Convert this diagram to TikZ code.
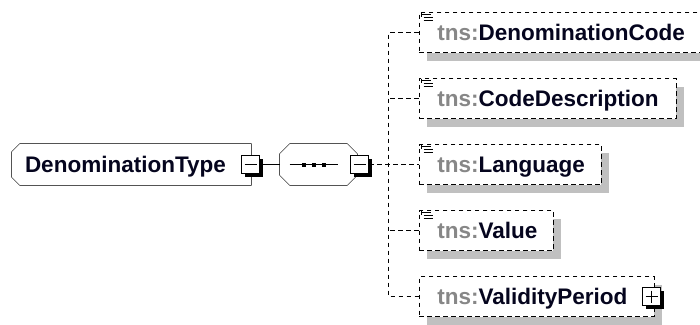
\documentclass[tikz,border=0pt]{standalone}
\usepackage{fontspec}
\setmainfont{Liberation Sans}
\usetikzlibrary{shadows,calc,backgrounds}
\definecolor{shadowgray}{RGB}{192,192,192}
\definecolor{tnsgray}{RGB}{135,135,135}
\definecolor{namecol}{RGB}{5,5,30}
\newcommand{\tnsp}{\textcolor{tnsgray}{tns:}}
\begin{document}
\begin{tikzpicture}[x=1pt,y=-1pt,line width=1.7pt,
  lbl/.style={font=\fontsize{22.5}{26}\selectfont\bfseries,text=namecol,text height=16.1pt,text depth=0pt},
  shad/.style={drop shadow={shadow xshift=8pt,shadow yshift=-8pt,fill=shadowgray,opacity=1}},
  dsh/.style={dash pattern=on 4.5pt off 3.5pt},
  cbox/.style={lbl,shad,draw,dsh,fill=white,rectangle,minimum height=40pt,inner xsep=18pt,inner ysep=0pt,anchor=west},
  mainbox/.style={lbl,rectangle,minimum width=238pt,minimum height=40pt,inner xsep=12pt,inner ysep=0pt},
  seqbox/.style={rectangle,minimum width=76pt,minimum height=40pt,inner sep=0pt},
  octfill/.style={draw,fill=white},
  btn/.style={draw,fill=white,rectangle,minimum width=18pt,minimum height=18pt,inner sep=0pt,drop shadow={shadow xshift=3pt,shadow yshift=-3pt,fill=black,opacity=1}},
  icon/.style={line width=1.2pt}
]
\useasboundingbox (0,0) rectangle (700,324);
\clip (0,0) rectangle (700,324);
% main element
\node[mainbox] (dt) at (131.5,164.5) {\makebox[213pt][l]{DenominationType}};
% sequence
\node[seqbox] (seq) at (318.5,164.5) {};
\begin{scope}[on background layer]
  % main element shadow and outline (left corners chamfered)
  \fill[shadowgray,shift={(8,8)}] ($(dt.north west)+(8,0)$) -- (dt.north east) -- (dt.south east)
     -- ($(dt.south west)+(8,0)$) -- ($(dt.south west)+(0,-8)$) -- ($(dt.north west)+(0,8)$) -- cycle;
  \draw[octfill] ($(dt.north west)+(8,0)$) -- (dt.north east) -- (dt.south east)
     -- ($(dt.south west)+(8,0)$) -- ($(dt.south west)+(0,-8)$) -- ($(dt.north west)+(0,8)$) -- cycle;
  % sequence shadow and octagon
  \fill[shadowgray,shift={(8,8)}] ($(seq.north west)+(10,0)$) -- ($(seq.north east)+(-10,0)$) -- ($(seq.north east)+(0,10)$)
     -- ($(seq.south east)+(0,-10)$) -- ($(seq.south east)+(-10,0)$) -- ($(seq.south west)+(10,0)$)
     -- ($(seq.south west)+(0,-10)$) -- ($(seq.north west)+(0,10)$) -- cycle;
  \draw[octfill] ($(seq.north west)+(10,0)$) -- ($(seq.north east)+(-10,0)$) -- ($(seq.north east)+(0,10)$)
     -- ($(seq.south east)+(0,-10)$) -- ($(seq.south east)+(-10,0)$) -- ($(seq.south west)+(10,0)$)
     -- ($(seq.south west)+(0,-10)$) -- ($(seq.north west)+(0,10)$) -- cycle;
\end{scope}
\node[btn] (b1) at (250.5,164.5) {};
\draw ($(b1.center)+(-6,0)$) -- ($(b1.center)+(6,0)$);
\draw ($(seq.west)+(10,0)$) -- ++(48,0);
\foreach \k in {0,10,20} {\fill ($(seq.west)+(22+\k,-2)$) rectangle ++(4,4);}
\node[btn] (b2) at (359.5,164.5) {};
\draw ($(b2.center)+(-6,0)$) -- ($(b2.center)+(6,0)$);
% children
\node[cbox] (c1) at (418.5,32.5) {\makebox[251pt][l]{\tnsp DenominationCode}};
\node[cbox] (c2) at (418.5,98.5) {\makebox[221pt][l]{\tnsp CodeDescription}};
\node[cbox] (c3) at (418.5,164.5) {\makebox[146pt][l]{\tnsp Language}};
\node[cbox] (c4) at (418.5,230.5) {\makebox[98pt][l]{\tnsp Value}};
\node[cbox] (c5) at (418.5,296.5) {\makebox[199pt][l]{\tnsp ValidityPeriod}};
\node[btn] (b3) at (651.5,296.5) {};
\draw ($(b3.center)+(-6,0)$) -- ($(b3.center)+(6,0)$);
\draw ($(b3.center)+(0,-6)$) -- ($(b3.center)+(0,6)$);
% doc icons
\foreach \n in {c1,c2,c3,c4} {
  \draw[icon] ($(\n.north west)+(3,1)$) -- ++(0,4);
  \draw[icon] ($(\n.north west)+(3,3)$) -- ++(9,0);
  \draw[icon] ($(\n.north west)+(5,6)$) -- ++(9,0);
  \draw[icon] ($(\n.north west)+(5,9)$) -- ++(9,0);
}
% connectors
\draw (b1.east) -- (seq.west);
\draw[dsh] (b2.east) -- (c3.west);
\draw[dsh] (c1.west) -- ++(-30,0) |- (c5.west);
\draw[dsh] (c2.west) -- ++(-30,0);
\draw[dsh] (c4.west) -- ++(-30,0);
\end{tikzpicture}
\end{document}
